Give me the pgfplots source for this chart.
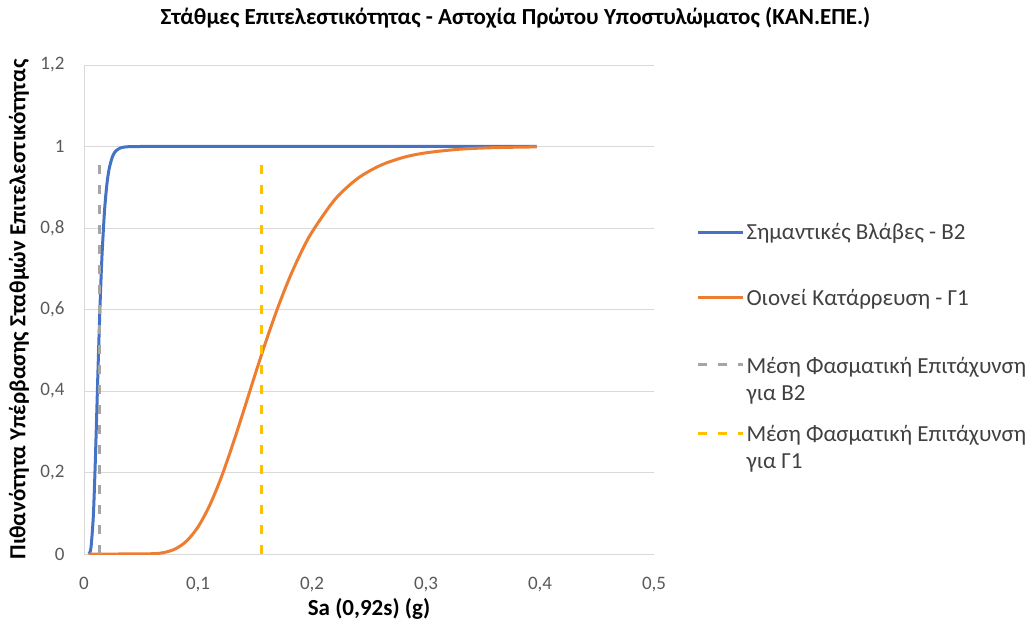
\documentclass[border=0pt]{standalone}
\usepackage{pgfplots}
\pgfplotsset{compat=1.18}
\usepackage{fontspec}
\setmainfont{Carlito}
\definecolor{cblue}{HTML}{4472C4}
\definecolor{corange}{HTML}{ED7D31}
\definecolor{cgrey}{HTML}{A5A5A5}
\definecolor{cyellow}{HTML}{FFC000}
\definecolor{ctick}{HTML}{595959}
\definecolor{cleg}{HTML}{404040}
\definecolor{cgrid}{HTML}{D9D9D9}
\begin{document}
\begin{tikzpicture}
\useasboundingbox (-84bp,-72bp) rectangle (948bp,554bp);
\begin{axis}[
  at={(0,0)}, anchor=origin,
  scale only axis, width=570bp, height=489bp,
  xmin=0, xmax=0.5, ymin=0, ymax=1.2,
  xtick={0,0.1,0.2,0.3,0.4,0.5},
  xticklabels={0,{0,1},{0,2},{0,3},{0,4},{0,5}},
  ytick={0,0.2,0.4,0.6,0.8,1,1.2},
  yticklabels={0,{0,2},{0,4},{0,6},{0,8},1,{1,2}},
  major tick length=0pt,
  axis line style={cgrid, line width=0.9pt},
  axis x line*=bottom, axis y line*=left,
  ymajorgrids, grid style={cgrid, line width=0.9pt},
  tick label style={font=\fontsize{19bp}{22bp}\selectfont, text=ctick},
  xticklabel style={yshift=-20bp},
  yticklabel style={xshift=-16bp},
  xlabel={\textbf{Sa (0,92s) (g)}},
  xlabel style={font=\fontsize{23bp}{27bp}\selectfont, at={(axis description cs:0.5,0)}, anchor=center, yshift=-55bp},
  ylabel={\textbf{Πιθανότητα Υπέρβασης Σταθμών Επιτελεστικότητας}},
  ylabel style={font=\fontsize{23bp}{27bp}\selectfont, at={(axis description cs:-0.114,0.5)}, anchor=center},
  title={\textbf{Στάθμες Επιτελεστικότητας - Αστοχία Πρώτου Υποστυλώματος (ΚΑΝ.ΕΠΕ.)}},
  title style={font=\fontsize{23bp}{27bp}\selectfont, at={(0.757,1)}, anchor=base, yshift=35bp},
  legend style={at={(1.069,0.685)}, anchor=north west, draw=none, fill=none,
    font=\fontsize{23bp}{27bp}\selectfont, text=cleg, row sep=44bp,
    cells={anchor=west}},
  legend image code/.code={\draw[#1] (0bp,0bp) -- (45bp,0bp);},
  legend cell align=left,
]
\addplot[cblue, line width=3bp, smooth] coordinates {
(0.004,0.0003)(0.006,0.0129)(0.008,0.0835)(0.009,0.150)(0.010,0.234)(0.011,0.328)
(0.012,0.425)(0.013,0.518)(0.014,0.604)(0.015,0.680)(0.016,0.744)(0.018,0.842)
(0.020,0.905)(0.022,0.944)(0.025,0.9755)(0.028,0.9893)(0.032,0.9965)(0.036,0.9988)
(0.040,0.9996)(0.05,1)(0.1,1)(0.2,1)(0.3,1)(0.397,1)};
\addlegendentry{Σημαντικές Βλάβες - Β2}
\addplot[corange, line width=3bp, smooth] coordinates {
(0.004,0)(0.03,0)(0.06,0.0007)(0.07,0.0035)(0.08,0.0123)(0.09,0.0318)(0.10,0.0663)
(0.11,0.1178)(0.12,0.185)(0.13,0.2647)(0.14,0.351)(0.15,0.4396)(0.16,0.525)
(0.17,0.6045)(0.18,0.6757)(0.19,0.7376)(0.20,0.790)(0.22,0.8697)(0.24,0.9215)
(0.26,0.9536)(0.28,0.9731)(0.30,0.9845)(0.33,0.9934)(0.36,0.9972)(0.397,0.999)};
\addlegendentry{Οιονεί Κατάρρευση - Γ1}
\addplot[cgrey, line width=3bp, dash pattern=on 9bp off 11bp] coordinates {(0.014,0)(0.014,0.97)};
\addlegendentry{\raisebox{0pt}[\height][0pt]{\begin{tabular}[t]{@{}l@{}}Μέση Φασματική Επιτάχυνση\\για Β2\end{tabular}}}
\addplot[cyellow, line width=3bp, dash pattern=on 9bp off 11bp] coordinates {(0.156,0)(0.156,0.97)};
\addlegendentry{\raisebox{0pt}[\height][0pt]{\begin{tabular}[t]{@{}l@{}}Μέση Φασματική Επιτάχυνση\\για Γ1\end{tabular}}}
\end{axis}
\end{tikzpicture}
\end{document}
